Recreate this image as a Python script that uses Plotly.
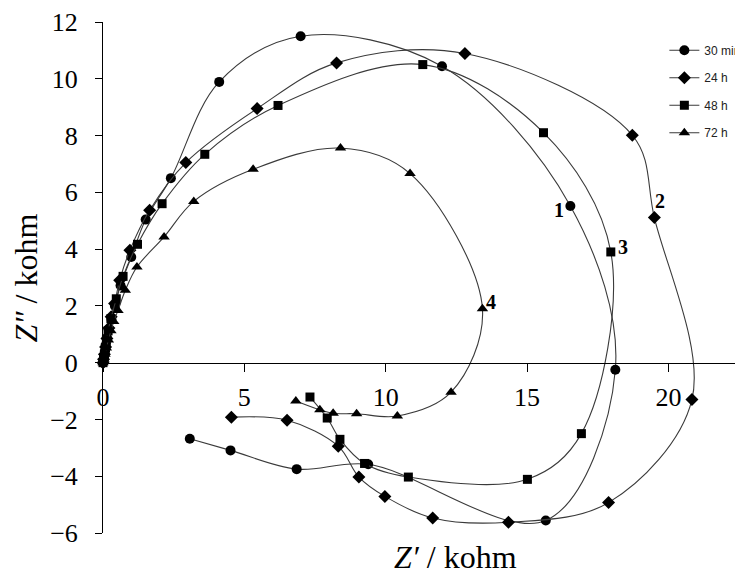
import plotly.graph_objects as go

# ---- data (Z' kohm, Z'' kohm) ----
series_names = ["30 min", "24 h", "48 h", "72 h"]

x_30min = [0.00, 0.02, 0.04, 0.07, 0.10, 0.14, 0.20, 0.30, 0.42, 0.62, 1.00, 1.51, 2.40, 4.11,
           6.99, 11.99, 16.53, 18.12, 15.66, 9.38, 6.85, 4.51, 3.07]
y_30min = [0.00, 0.10, 0.22, 0.40, 0.62, 0.88, 1.18, 1.52, 2.00, 2.72, 3.72, 5.04, 6.50, 9.89,
           11.50, 10.44, 5.52, -0.25, -5.56, -3.58, -3.75, -3.09, -2.68]

x_24h = [0.00, 0.02, 0.05, 0.09, 0.14, 0.21, 0.29, 0.41, 0.59, 0.95, 1.65, 2.93, 5.45, 8.26,
         12.80, 18.72, 19.50, 20.83, 17.88, 14.34, 11.66, 9.97, 9.05, 8.32, 6.51, 4.54]
y_24h = [0.00, 0.12, 0.30, 0.55, 0.85, 1.22, 1.62, 2.08, 2.90, 3.96, 5.37, 7.05, 8.95, 10.56,
         10.89, 8.01, 5.11, -1.30, -4.93, -5.62, -5.47, -4.71, -4.03, -2.94, -2.03, -1.92]

x_48h = [0.00, 0.02, 0.05, 0.08, 0.12, 0.18, 0.28, 0.47, 0.71, 1.22, 2.09, 3.60, 6.19, 11.31,
         15.58, 17.96, 16.92, 15.01, 10.80, 9.25, 8.38, 7.93, 7.32]
y_48h = [0.00, 0.12, 0.30, 0.52, 0.80, 1.12, 1.55, 2.25, 3.04, 4.17, 5.60, 7.34, 9.06, 10.50,
         8.10, 3.90, -2.50, -4.11, -4.03, -3.55, -2.70, -1.95, -1.21]

x_72h = [0.00, 0.03, 0.07, 0.12, 0.19, 0.28, 0.38, 0.53, 0.79, 1.20, 2.16, 3.21, 5.31, 8.40,
         10.86, 13.42, 12.31, 10.41, 8.97, 8.14, 7.67, 6.82]
y_72h = [0.00, 0.12, 0.30, 0.52, 0.80, 1.12, 1.45, 1.84, 2.55, 3.37, 4.43, 5.68, 6.81, 7.56,
         6.66, 1.90, -1.04, -1.88, -1.80, -1.78, -1.66, -1.35]

marker_symbols = ["circle", "diamond", "square", "triangle-up"]
marker_sizes = [10, 10, 9, 10]

x_ticks = [0, 5, 10, 15, 20]
y_ticks = [-6, -4, -2, 0, 2, 4, 6, 8, 10, 12]

curve_labels = ["1", "2", "3", "4"]
curve_label_x = [16.13, 19.71, 18.38, 13.71]
curve_label_y = [5.37, 5.68, 4.07, 2.13]

xs = [x_30min, x_24h, x_48h, x_72h]
ys = [y_30min, y_24h, y_48h, y_72h]

fig = go.Figure()
for i, name in enumerate(series_names):
    fig.add_trace(go.Scatter(
        x=xs[i], y=ys[i], name=name, mode="lines+markers",
        legendgroup=name,
        line=dict(color="#3a3a3a", width=1.1, shape="spline", smoothing=1.0),
        marker=dict(symbol=marker_symbols[i], size=marker_sizes[i], color="black"),
        cliponaxis=False,
    ))

serif = "Liberation Serif"

for t, lx, ly in zip(curve_labels, curve_label_x, curve_label_y):
    fig.add_annotation(x=lx, y=ly, text="<b>" + t + "</b>", showarrow=False,
                       font=dict(family=serif, size=20, color="black"))

# axis titles
fig.add_annotation(xref="paper", yref="paper", x=0.552, y=0, xanchor="center",
                   yanchor="top", yshift=-4,
                   text="<i>Z′</i> / kohm", showarrow=False,
                   font=dict(family=serif, size=32, color="black"))
fig.add_annotation(xref="paper", yref="paper", x=-0.122, y=0.498, textangle=-90,
                   xanchor="center", yanchor="middle",
                   text="<i>Z″</i> / kohm", showarrow=False,
                   font=dict(family=serif, size=32, color="black"))

fig.update_layout(
    width=735, height=566,
    margin=dict(l=95, r=1, t=14, b=41, autoexpand=False),
    paper_bgcolor="white", plot_bgcolor="white",
    showlegend=True,
    legend=dict(x=0.8785, y=0.973, xanchor="left", yanchor="top",
                bgcolor="rgba(0,0,0,0)", tracegroupgap=8.5,
                font=dict(family="Liberation Sans", size=12, color="#222")),
    xaxis=dict(range=[0, 22.6], domain=[0, 1], anchor="free", position=6 / 18,
               showline=True, linecolor="black", linewidth=1,
               ticks="outside", ticklen=8, tickcolor="black",
               tickvals=x_ticks, ticklabelstandoff=3,
               tickfont=dict(family=serif, size=26, color="black"),
               showgrid=False, zeroline=False),
    yaxis=dict(range=[-6, 12], domain=[0, 1],
               showline=True, linecolor="black", linewidth=1,
               ticks="outside", ticklen=7, tickcolor="black",
               tickvals=y_ticks, ticklabelstandoff=12,
               tickfont=dict(family=serif, size=26, color="black"),
               showgrid=False, zeroline=False),
)

fig.write_html("out.html")
